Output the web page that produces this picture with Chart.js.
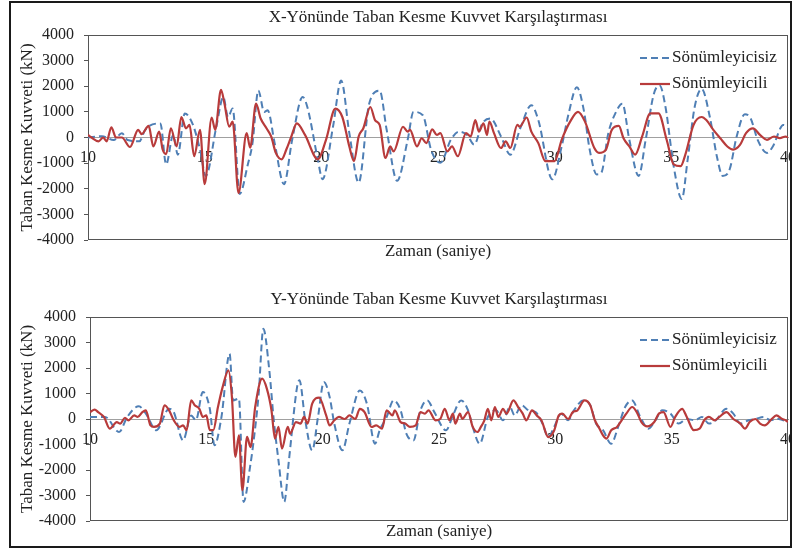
<!DOCTYPE html>
<html>
<head>
<meta charset="utf-8">
<script src="https://cdn.jsdelivr.net/npm/chart.js@4.4.1/dist/chart.umd.min.js"></script>
<style>
body { margin: 0; background: #fff; }
#frame { position: absolute; left: 9px; top: 1px; width: 783px; height: 547px; border: 2px solid #1a1a1a; box-sizing: border-box; }
canvas { position: absolute; }
#chartX { left: 11px; top: 3px; }
#chartY { left: 11px; top: 278px; }
</style>
</head>
<body>
<div id="frame"></div>
<canvas id="chartX" width="779" height="272"></canvas>
<canvas id="chartY" width="779" height="268"></canvas>
<script>
// titles / labels
const titleX = 'X-Yönünde Taban Kesme Kuvvet Karşılaştırması';
const titleY = 'Y-Yönünde Taban Kesme Kuvvet Karşılaştırması';
const xAxisTitle = 'Zaman (saniye)';
const yAxisTitle = 'Taban Kesme Kuvveti (kN)';
const seriesNames = ['Sönümleyicisiz', 'Sönümleyicili'];

// axis ticks
const timeTicks = [10, 15, 20, 25, 30, 35, 40];
const forceTicks = [-4000, -3000, -2000, -1000, 0, 1000, 2000, 3000, 4000];

// X direction, without dampers (dashed)
const xUndampedTime = [
  10, 10.6, 11.1, 11.45, 11.7, 12.2, 12.45, 13.1, 13.35, 13.65,
  13.85, 14.15, 14.5, 14.8, 15.05, 15.5, 15.8, 16.0, 16.2, 16.5,
  16.85, 17.05, 17.3, 17.55, 17.7, 18.0, 18.4, 18.75, 19.2, 19.4,
  19.85, 20.05, 20.5, 20.85, 21.2, 21.6, 22.05, 22.5, 22.8, 23.25,
  23.7, 23.95, 24.35, 24.7, 25.1, 25.55, 25.9, 26.25, 26.55, 26.9,
  27.25, 27.7, 28.1, 28.55, 29.0, 29.3, 29.9, 30.3, 30.6, 30.95,
  31.25, 31.5, 31.8, 32.0, 32.3, 32.6, 32.9, 33.2, 33.6, 33.9,
  34.25, 34.5, 34.75, 35.1, 35.45, 35.7, 36.0, 36.3, 36.65, 36.95,
  37.2, 37.5, 37.8, 38.15, 38.4, 38.7, 39.1, 39.35, 39.8, 40.0
];
const xUndampedForce = [
  0, 50, -100, 170, -100, -150, 300, 550, -1050, 100,
  -670, 940, 490, -470, -1500, 420, 1580, 800, 1130, -2200,
  -1050, -220, 1830, 1000, 1060, -220, -1820, -90, 1580, 1190,
  -860, -1630, 420, 2220, 170, -1760, 1320, 1830, 300, -1690,
  -90, 1000, 870, -470, -990, -90, 230, 100, -280, 550,
  740, 40, -670, 420, 1260, 680, -1630, -350, 940, 1960,
  1060, -470, -1440, -1370, 170, 940, 1320, -90, -1500, -90,
  1700, 2030, 1190, -1120, -2400, -860, 1190, 1900, 800, -730,
  -1500, -1240, 40, 910, 740, -90, -600, -350, 490, 420
];

// X direction, with dampers (solid)
const xDampedTime = [
  10, 10.15, 10.45, 10.65, 10.8, 11.0, 11.2, 11.45, 11.8, 12.15,
  12.3, 12.6, 12.8, 13.05, 13.2, 13.35, 13.55, 13.8, 14.0, 14.2,
  14.35, 14.55, 14.8, 15.0, 15.3, 15.45, 15.7, 15.85, 16.05, 16.2,
  16.45, 16.8, 16.95, 17.2, 17.4, 17.65, 17.85, 18.05, 18.3, 18.5,
  18.7, 18.95, 19.3, 19.85, 20.2, 20.6, 20.9, 21.2, 21.4, 21.6,
  21.8, 22.1, 22.3, 22.5, 22.75, 22.95, 23.1, 23.5, 23.7, 23.8,
  24.1, 24.3, 24.5, 24.75, 24.95, 25.1, 25.4, 25.6, 25.85, 26.2,
  26.4, 26.6, 26.75, 26.95, 27.1, 27.2, 27.4, 27.7, 27.9, 28.1,
  28.4, 28.5, 28.8, 29.0, 29.3, 29.6, 30.0, 30.3, 30.7, 31.0,
  31.3, 31.7, 31.9, 32.2, 32.45, 32.75, 32.95, 33.2, 33.45, 33.75,
  34.1, 34.45, 34.8, 35.1, 35.4, 35.6, 35.95, 36.3, 36.5, 36.8,
  37.1, 37.4, 37.65, 37.95, 38.2, 38.5, 38.8, 39.1, 39.4, 39.65,
  39.9, 40.0
];
const xDampedForce = [
  100, 0, -150, 0, -150, 400, 0, 0, -370, 300,
  130, 450, -350, 230, -470, -650, 360, -350, 800, 360,
  490, -730, 300, -1820, 780, 300, 1860, 1320, 420, 620,
  -2170, 170, -400, 1320, 740, 360, 40, -600, -850, -470,
  0, 550, 100, -850, -90, 1130, 800, -350, -920, 40,
  360, 1190, 680, 490, -800, -350, -540, 420, 230, 300,
  -350, -30, -220, 320, 100, 170, -540, -350, -730, 170,
  40, 680, 230, 550, 100, 620, 170, -410, -150, -410,
  490, 420, 780, 230, -220, -920, -920, -90, 680, 1000,
  620, -410, -600, -470, 300, 450, -30, -350, -670, 40,
  940, 940, -90, -1050, -1120, -670, 490, 800, 680, 300,
  -30, -350, -470, -280, 170, 360, 100, -90, 40, -30,
  40, 0
];

// Y direction, without dampers (dashed)
const yUndampedTime = [
  10.0, 10.65, 11.25, 11.6, 12.1, 12.4, 12.85, 13.4, 13.6, 14.0,
  14.35, 14.55, 14.85, 15.15, 15.35, 15.65, 16.0, 16.15, 16.4, 16.6,
  16.9, 17.0, 17.25, 17.45, 17.7, 17.9, 18.1, 18.35, 18.55, 18.9,
  19.0, 19.25, 19.55, 19.8, 20.05, 20.3, 20.5, 20.85, 21.15, 21.6,
  21.9, 22.25, 22.45, 22.75, 23.05, 23.35, 23.6, 23.9, 24.2, 24.5,
  24.8, 25.3, 25.6, 25.95, 26.25, 26.45, 26.75, 27.1, 27.45, 27.75,
  28.05, 28.25, 28.55, 28.85, 29.15, 29.45, 29.7, 29.95, 30.25, 30.55,
  30.8, 31.2, 31.5, 31.75, 32.05, 32.4, 32.7, 33.0, 33.3, 33.65,
  34.0, 34.3, 34.6, 34.95, 35.3, 35.65, 36.0, 36.3, 36.6, 36.9,
  37.35, 37.65, 37.95, 38.3, 38.6, 38.95, 39.25, 39.6, 39.95, 40.0
];
const yUndampedForce = [
  80, 80, -510, 80, 500, 210, -440, 400, 270, -840,
  140, -50, 1060, 400, -1030, 80, 2560, 730, 800, -3250,
  -1750, -1100, 990, 3540, 1970, -50, -1620, -3250, -1620, 1250,
  1520, -50, -1230, 80, 1450, 860, -180, -1230, -180, 1120,
  600, -970, -440, 80, 730, 340, -580, -840, 340, 730,
  270, -440, 140, 730, 340, -310, -970, 80, 340, -50,
  470, 140, 540, 340, 270, -180, -710, -310, 210, -50,
  340, 730, 540, -180, -440, -970, -310, 470, 730, 80,
  -380, -50, 340, 210, -180, 0, -50, 80, -180, -50,
  400, 210, -180, -50, 0, 80, -50, 0, -120, -150
];

// Y direction, with dampers (solid)
const yDampedTime = [
  10.0, 10.2, 10.35, 10.6, 10.85, 11.15, 11.3, 11.5, 11.65, 11.9,
  12.05, 12.25, 12.4, 12.6, 12.75, 13.0, 13.2, 13.4, 13.6, 13.85,
  14.0, 14.15, 14.35, 14.5, 14.7, 14.85, 15.0, 15.15, 15.3, 15.5,
  15.7, 15.95, 16.1, 16.25, 16.4, 16.55, 16.75, 16.9, 17.1, 17.4,
  17.6, 17.8, 17.95, 18.1, 18.25, 18.5, 18.6, 18.85, 19.05, 19.2,
  19.35, 19.55, 19.85, 20.15, 20.3, 20.5, 20.7, 20.95, 21.15, 21.4,
  21.6, 21.8, 22.1, 22.3, 22.55, 22.75, 23.0, 23.1, 23.35, 23.55,
  23.75, 24.0, 24.2, 24.4, 24.55, 24.85, 25.05, 25.25, 25.45, 25.6,
  25.7, 25.9, 26.0, 26.25, 26.45, 26.65, 26.8, 26.95, 27.1, 27.25,
  27.4, 27.55, 27.75, 27.9, 28.2, 28.4, 28.6, 28.75, 29.0, 29.2,
  29.4, 29.7, 29.95, 30.15, 30.3, 30.55, 30.75, 30.95, 31.25, 31.5,
  31.7, 31.9, 32.05, 32.2, 32.4, 32.65, 32.85, 33.05, 33.3, 33.5,
  33.7, 33.95, 34.25, 34.45, 34.65, 34.95, 35.15, 35.45, 35.65, 35.95,
  36.2, 36.4, 36.6, 36.85, 37.05, 37.35, 37.65, 37.95, 38.15, 38.35,
  38.6, 38.8, 39.0, 39.3, 39.5, 39.75, 39.9, 40.0
];
const yDampedForce = [
  270, 370, 270, 80, -380, -120, -180, 50, -50, 140,
  80, 270, 340, -250, -310, -180, 540, 340, -50, -310,
  -250, -440, 730, 540, 400, 80, 140, -440, -440, 470,
  1250, 1910, 860, -1490, -640, -2800, -700, -1100, 470, 1580,
  1190, 340, -770, -310, -1160, -310, -580, -120, -180, 80,
  -180, 600, 840, 140, -250, -50, 80, 0, 140, 0,
  400, 270, -310, -250, -380, 340, 140, 340, -120, -180,
  -310, -250, 270, 210, 340, -50, 0, 400, -50, 210,
  -180, 210, 0, 270, -310, -510, -310, -50, 400, -50,
  470, 80, 400, 210, 730, 470, 210, -50, 340, 140,
  -50, -710, -450, 140, 210, 0, 270, 340, 730, 540,
  -50, -380, -640, -770, -440, -310, -50, 210, 470, 270,
  -120, -290, -120, 210, 270, -310, 80, 400, 80, -440,
  -380, -50, 80, -50, 80, 270, 0, -180, -380, -120,
  0, -180, -250, 0, 140, 0, -50, -120
];

const FONT = "'Liberation Serif', 'Times New Roman', serif";
Chart.defaults.font.family = FONT;
Chart.defaults.color = '#222';

// box around the plot area
const plotFrame = {
    id: 'plotFrame',
    beforeDatasetsDraw(chart) {
        const {ctx, chartArea: a} = chart;
        ctx.save();
        ctx.strokeStyle = '#555';
        ctx.lineWidth = 1;
        ctx.strokeRect(a.left + 0.5, a.top + 0.5, a.right - a.left - 1, a.bottom - a.top - 1);
        ctx.restore();
    }
};

// legend in the upper right corner, inside the plot
const insideLegend = {
    id: 'insideLegend',
    afterDatasetsDraw(chart) {
        const {ctx, chartArea: a} = chart;
        ctx.save();
        ctx.font = '17px ' + FONT;
        ctx.textBaseline = 'middle';
        chart.data.datasets.forEach((ds, i) => {
            const y = a.top + 23 + i * 26;
            ctx.strokeStyle = ds.borderColor;
            ctx.lineWidth = ds.borderWidth;
            ctx.setLineDash(ds.borderDash || []);
            ctx.beginPath();
            ctx.moveTo(a.right - 148, y);
            ctx.lineTo(a.right - 118, y);
            ctx.stroke();
            ctx.fillStyle = '#222';
            ctx.fillText(ds.label, a.right - 116, y);
        });
        ctx.restore();
    }
};

function toPoints(times, forces) {
    return times.map((t, i) => ({x: t, y: forces[i]}));
}

function drawChart(id, title, uT, uF, dT, dF, box) {
    new Chart(document.getElementById(id), {
        type: 'line',
        data: {
            datasets: [{
                label: seriesNames[0],
                data: toPoints(uT, uF),
                borderColor: '#4f7fb5',
                borderWidth: 2,
                borderDash: [7, 4],
                pointRadius: 0,
                cubicInterpolationMode: 'monotone',
                order: 1
            }, {
                label: seriesNames[1],
                data: toPoints(dT, dF),
                borderColor: '#b83b3b',
                borderWidth: 2.2,
                pointRadius: 0,
                cubicInterpolationMode: 'monotone',
                order: 0
            }]
        },
        options: {
            responsive: false,
            animation: false,
            layout: { padding: { left: 0, right: 2, top: 0, bottom: 0 } },
            plugins: {
                legend: { display: false },
                tooltip: { enabled: false },
                title: {
                    display: true, text: title, fullSize: false,
                    font: { size: 17, weight: 'normal' }, padding: box.title
                },
                subtitle: {
                    display: true, text: xAxisTitle, position: 'bottom', fullSize: false,
                    font: { size: 17, weight: 'normal' }, padding: box.sub
                }
            },
            scales: {
                x: {
                    type: 'linear',
                    position: { y: 0 },
                    min: timeTicks[0],
                    max: timeTicks[timeTicks.length - 1],
                    ticks: { stepSize: timeTicks[1] - timeTicks[0], padding: 11, maxRotation: 0, font: { size: 16 } },
                    grid: { display: false, drawTicks: false },
                    border: { color: '#a0a0a0', width: 1 },
                    // the last label may run off the edge, like in the original
                    afterFit: s => { s.paddingLeft = 0; s.paddingRight = 0; }
                },
                y: {
                    min: forceTicks[0],
                    max: forceTicks[forceTicks.length - 1],
                    ticks: { stepSize: forceTicks[1] - forceTicks[0], padding: 10, font: { size: 16 }, callback: v => String(v) },
                    grid: { drawOnChartArea: false, tickLength: 4, color: '#555' },
                    border: { display: false },
                    title: { display: true, text: yAxisTitle, font: { size: 17 }, padding: { top: 6, bottom: 0 } },
                    afterFit: s => { s.width = box.axisWidth; }
                }
            }
        },
        plugins: [plotFrame, insideLegend]
    });
}

drawChart('chartX', titleX, xUndampedTime, xUndampedForce, xDampedTime, xDampedForce, {
    axisWidth: 77, title: { top: 4, bottom: 7.6 }, sub: { top: 1.8, bottom: 12.8 }
});
drawChart('chartY', titleY, yUndampedTime, yUndampedForce, yDampedTime, yDampedForce, {
    axisWidth: 79, title: { top: 11.8, bottom: 6.8 }, sub: { top: 0.8, bottom: 3.8 }
});
</script>
</body>
</html>
